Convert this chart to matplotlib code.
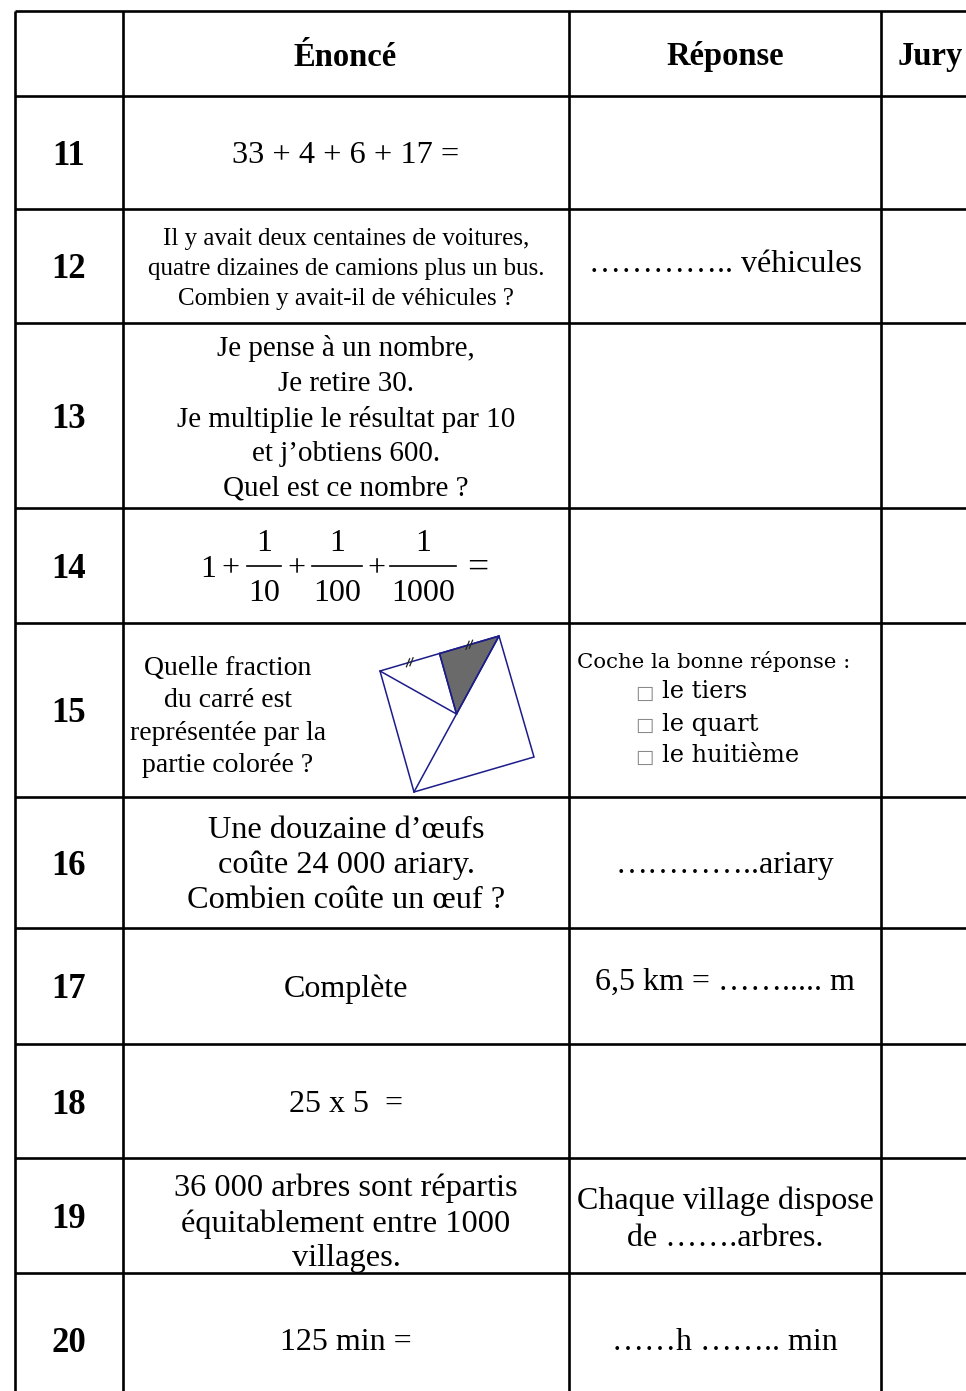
import matplotlib.pyplot as plt
from matplotlib.patches import Polygon

plt.rcParams['font.family'] = ['Liberation Serif', 'DejaVu Serif']

entetes = ['Énoncé', 'Réponse', 'Jury']
numeros = ['11', '12', '13', '14', '15', '16', '17', '18', '19', '20']

enonces = [
    '33 + 4 + 6 + 17 =',
    'Il y avait deux centaines de voitures,\nquatre dizaines de camions plus un bus.\nCombien y avait-il de véhicules ?',
    'Je pense à un nombre,\nJe retire 30.\nJe multiplie le résultat par 10\net j\u2019obtiens 600.\nQuel est ce nombre ?',
    '',   # question 14 is drawn as fractions below
    'Quelle fraction\ndu carré est\nreprésentée par la\npartie colorée ?',
    'Une douzaine d\u2019œufs\ncoûte 24 000 ariary.\nCombien coûte un œuf ?',
    'Complète',
    '25 x 5  =',
    '36 000 arbres sont répartis\néquitablement entre 1000\nvillages.',
    '125 min =',
]

# question 14 : 1 + 1/10 + 1/100 + 1/1000 =
q14_termes = ['1', '+', ('1', '10'), '+', ('1', '100'), '+', ('1', '1000'), '=']

reponses = [
    '',
    '\u2026\u2026\u2026\u2026.. véhicules',
    '',
    '',
    '',
    '\u2026\u2026\u2026\u2026..ariary',
    '6,5 km = \u2026\u2026..... m',
    '',
    'Chaque village dispose\nde \u2026\u2026.arbres.',
    '\u2026\u2026h \u2026\u2026.. min',
]

choix_titre = 'Coche la bonne réponse :'
choix = ['le tiers', 'le quart', 'le huitième']

# figure of question 15 : square corners (top-left, top-right, bottom-right, bottom-left)
carre_x = [380, 499, 534, 414]
carre_y = [671, 636, 757, 792]

# layout
col_x = [15, 123, 569, 881]
row_y = [11, 96, 209, 323, 508, 623, 797, 928, 1044, 1158, 1273, 1420]
enonce_size = [23.3, 18, 21, 23, 20, 23.3, 23, 23, 23.3, 23]
enonce_lsp = [1.2, 1.45, 1.42, 1.2, 1.38, 1.28, 1.2, 1.2, 1.26, 1.2]
enonce_dy = [0, 0, 0, 0, 4, 0, 0, 0, 5, 0]
rep_dy = [0, -5, 0, 0, 0, 0, -7, 0, 1, 0]
rep_lsp = 1.36
q14_x = [208, 230, 264, 296, 337, 376, 423, 478]

fig = plt.figure(figsize=(9.66, 13.91), dpi=100)
ax = fig.add_axes([0, 0, 1, 1])
ax.set_xlim(0, 966)
ax.set_ylim(1391, 0)
ax.axis('off')

lw = 1.9
ax.hlines(row_y, col_x[0], 1000, color='black', lw=lw)
ax.vlines(col_x, row_y[0], row_y[-1], color='black', lw=lw)

# header
for txt, x in zip(entetes, [345, 725, 930]):
    ax.text(x, 57, txt, ha='center', va='center', fontsize=23.5, fontweight='bold')

for i, num in enumerate(numeros):
    yc = (row_y[i + 1] + row_y[i + 2]) / 2
    if i == 9:
        yc = 1340
    ax.text(69, yc + 4, num, ha='center', va='center', fontsize=25, fontweight='bold')
    xe = 228 if i == 4 else 346
    if enonces[i]:
        ax.text(xe, yc + 3 + enonce_dy[i], enonces[i], ha='center', va='center',
                fontsize=enonce_size[i], linespacing=enonce_lsp[i])
    if reponses[i]:
        ax.text(725, yc + 3 + rep_dy[i], reponses[i], ha='center', va='center',
                fontsize=23, linespacing=rep_lsp)

# question 14 fractions
base = 577
digit_w = 23 * 100 / 72 * 0.5
for t, x in zip(q14_termes, q14_x):
    if isinstance(t, tuple):
        num, den = t
        half = (len(den) * digit_w + 2) / 2
        ax.plot([x - half, x + half], [566, 566], color='black', lw=1.2)
        ax.text(x, base - 26, num, ha='center', va='baseline', fontsize=23)
        ax.text(x, base + 24, den, ha='center', va='baseline', fontsize=23)
    elif t == '+':
        ax.text(x, base - 1, t, ha='center', va='baseline', fontsize=23)
    elif t == '=':
        ax.text(x, base + 1, t, ha='center', va='baseline', fontsize=27)
    else:
        ax.text(x, base, t, ha='center', va='baseline', fontsize=23)

# question 15 figure
ox = (carre_x[1] + carre_x[3]) / 2
oy = (carre_y[1] + carre_y[3]) / 2
mx = (carre_x[0] + carre_x[1]) / 2
my = (carre_y[0] + carre_y[1]) / 2
bleu = '#1c1c8a'
ax.add_patch(Polygon([[mx, my], [carre_x[1], carre_y[1]], [ox, oy]],
                     closed=True, facecolor='#6a6a6a', edgecolor=bleu, lw=1.1))
ax.add_patch(Polygon(list(zip(carre_x, carre_y)), closed=True,
                     facecolor='none', edgecolor=bleu, lw=1.1))
ax.plot([carre_x[1], carre_x[3]], [carre_y[1], carre_y[3]], color=bleu, lw=1.1)
ax.plot([carre_x[0], ox], [carre_y[0], oy], color=bleu, lw=1.1)
ax.plot([mx, ox], [my, oy], color=bleu, lw=1.1)

# equal-length marks "//" on both halves of the top side
ux = (carre_x[1] - carre_x[0])
uy = (carre_y[1] - carre_y[0])
n = (ux ** 2 + uy ** 2) ** 0.5
ux, uy = ux / n, uy / n
for cx, cy in [((carre_x[0] + mx) / 2, (carre_y[0] + my) / 2),
               ((mx + carre_x[1]) / 2, (my + carre_y[1]) / 2)]:
    for s in (-1.8, 1.8):
        px, py = cx + s * ux, cy + s * uy
        ax.plot([px - 1.6, px + 1.6], [py + 4, py - 4], color='#222222', lw=0.9)

# question 15 choices
ax.text(577, 661, choix_titre, ha='left', va='center', fontsize=15.3,
        family=['DejaVu Serif'])
for k, c in enumerate(choix):
    y = 692 + 32 * k
    ax.text(635, y + 1, '\u25a1', ha='left', va='center', fontsize=14,
            family=['DejaVu Sans'], color='#8a8a8a')
    ax.text(662, y, c, ha='left', va='center', fontsize=17.4,
            family=['DejaVu Serif'])

fig.savefig('out.png', dpi=100, facecolor='white')
